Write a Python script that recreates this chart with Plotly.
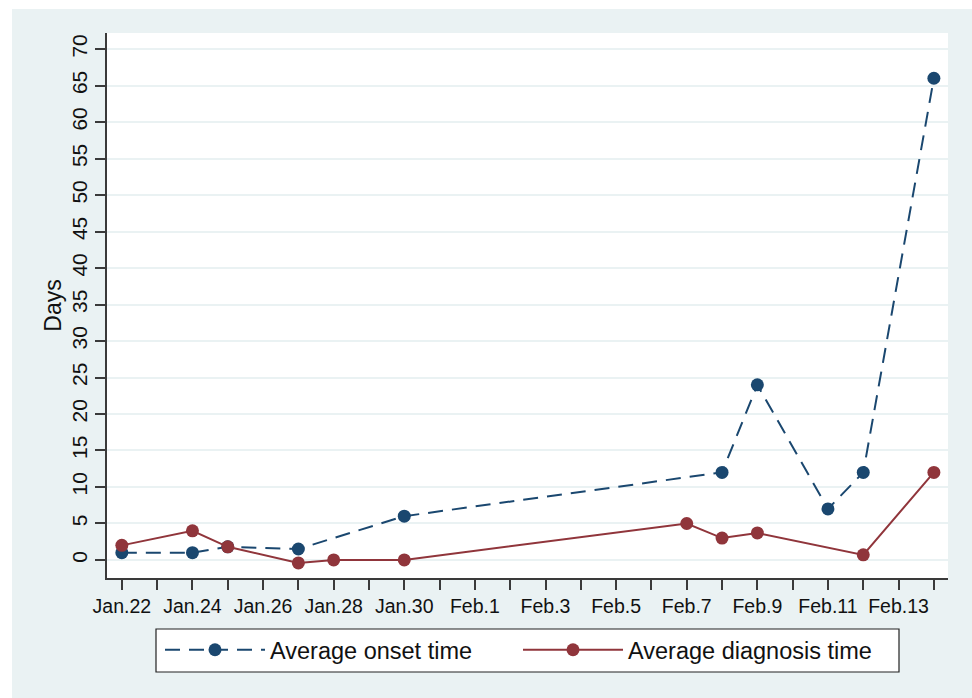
import plotly.graph_objects as go

# Average onset and diagnosis times (days) by report date
onset_dates = ["2020-01-22", "2020-01-24", "2020-01-25", "2020-01-27", "2020-01-30",
               "2020-02-08", "2020-02-09", "2020-02-11", "2020-02-12", "2020-02-14"]
onset_days = [1, 1, 1.8, 1.5, 6, 12, 24, 7, 12, 66]

diag_dates = ["2020-01-22", "2020-01-24", "2020-01-25", "2020-01-27", "2020-01-28",
              "2020-01-30", "2020-02-07", "2020-02-08", "2020-02-09", "2020-02-12",
              "2020-02-14"]
diag_days = [2, 4, 1.8, -0.4, 0, 0, 5, 3, 3.7, 0.7, 12]

# Daily ticks, labelled every second day
tick_dates = ["2020-01-22", "2020-01-23", "2020-01-24", "2020-01-25", "2020-01-26",
              "2020-01-27", "2020-01-28", "2020-01-29", "2020-01-30", "2020-01-31",
              "2020-02-01", "2020-02-02", "2020-02-03", "2020-02-04", "2020-02-05",
              "2020-02-06", "2020-02-07", "2020-02-08", "2020-02-09", "2020-02-10",
              "2020-02-11", "2020-02-12", "2020-02-13", "2020-02-14"]
tick_labels = ["Jan.22", "", "Jan.24", "", "Jan.26", "", "Jan.28", "", "Jan.30", "",
               "Feb.1", "", "Feb.3", "", "Feb.5", "", "Feb.7", "", "Feb.9", "",
               "Feb.11", "", "Feb.13", ""]
y_ticks = list(range(0, 75, 5))

NAVY = "#1a476f"
MAROON = "#90353b"
BG = "#eaf2f3"
AXIS = "#3a3a3a"
FONT = "Liberation Sans, Arial, sans-serif"

fig = go.Figure()
fig.add_trace(go.Scatter(
    x=onset_dates, y=onset_days, mode="lines+markers", name="Average onset time",
    line=dict(color=NAVY, width=2, dash="15px,9px"),
    marker=dict(color=NAVY, size=13),
))
fig.add_trace(go.Scatter(
    x=diag_dates, y=diag_days, mode="lines+markers", name="Average diagnosis time",
    line=dict(color=MAROON, width=2),
    marker=dict(color=MAROON, size=13),
))

L, R, T, B = 107, 24, 33, 120
W, H = 972, 698
pw, ph = W - L - R, H - T - B

def px_x(p):
    return (p - L) / pw

def px_y(p):
    return (H - B - p) / ph

fig.update_layout(
    width=W, height=H,
    margin=dict(l=L, r=R, t=T, b=B, autoexpand=False),
    paper_bgcolor=BG,
    plot_bgcolor="white",
    font=dict(family=FONT, color="#111111"),
    showlegend=True,
    legend=dict(
        orientation="h", x=px_x(160), xanchor="left", y=px_y(628), yanchor="top",
        bgcolor="rgba(0,0,0,0)", borderwidth=0,
        font=dict(size=23.5, family=FONT), itemwidth=100,
        entrywidth=243, entrywidthmode="pixels",
    ),
    xaxis=dict(
        type="date",
        range=["2020-01-21 13:55", "2020-02-14 09:36"],
        tickvals=tick_dates, ticktext=tick_labels,
        ticks="outside", ticklen=10, tickwidth=1.5, tickcolor=AXIS,
        showline=True, linecolor=AXIS, linewidth=1.5,
        showgrid=False, zeroline=False,
        tickfont=dict(size=19.5, family=FONT),
    ),
    yaxis=dict(
        range=[-2.47, 72.2],
        tickvals=y_ticks, tickangle=-90,
        ticks="outside", ticklen=10, tickwidth=1.5, tickcolor=AXIS,
        showline=True, linecolor=AXIS, linewidth=1.5,
        showgrid=True, gridcolor=BG, gridwidth=1.5, zeroline=False,
        tickfont=dict(size=21, family=FONT),
        title=dict(text="Days", font=dict(size=23, family=FONT), standoff=0),
    ),
    shapes=[
        # outer white margin strips
        dict(type="rect", xref="paper", yref="paper",
             x0=px_x(0), x1=px_x(12), y0=px_y(H), y1=px_y(0),
             fillcolor="white", line=dict(width=0), layer="above"),
        dict(type="rect", xref="paper", yref="paper",
             x0=px_x(0), x1=px_x(W), y0=px_y(9), y1=px_y(0),
             fillcolor="white", line=dict(width=0), layer="above"),
        # legend frame
        dict(type="rect", xref="paper", yref="paper",
             x0=px_x(156), x1=px_x(899), y0=px_y(672), y1=px_y(629),
             fillcolor="white", line=dict(color="#222222", width=1.2), layer="above"),
    ],
)

fig.write_html("out.html")
